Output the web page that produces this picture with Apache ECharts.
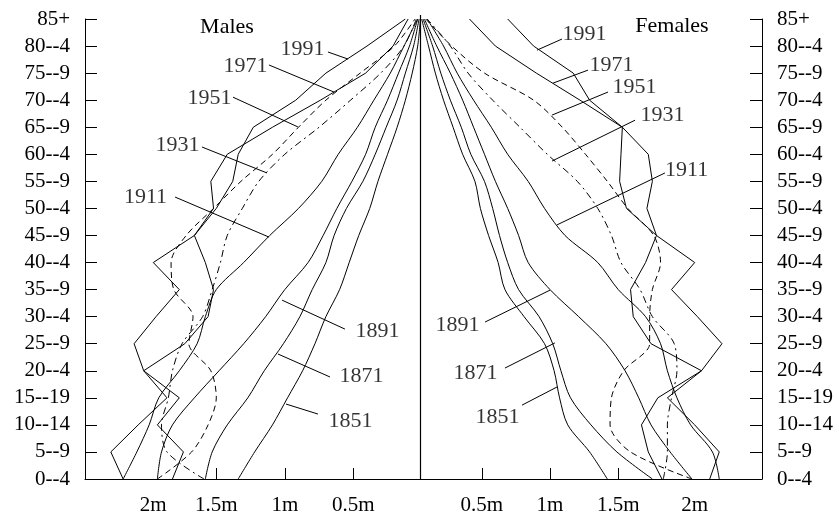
<!DOCTYPE html>
<html>
<head>
<meta charset="utf-8">
<script src="https://cdn.jsdelivr.net/npm/echarts@6/dist/echarts.min.js"></script>
<style>
html, body { margin: 0; padding: 0; background: #fff; }
#chart { width: 839px; height: 518px; }
</style>
</head>
<body>
<div id="chart"></div>
<script>
// Age groups, bottom to top
const ages = ['0--4', '5--9', '10--14', '15--19', '20--4', '25--9', '30--4', '35--9', '40--4',
  '45--9', '50--4', '55--9', '60--4', '65--9', '70--4', '75--9', '80--4', '85+'];
const years = [1851, 1871, 1891, 1911, 1931, 1951, 1971, 1991];

// Population by age group, millions — males
const male1851 = [1.34, 1.22, 1.09, 0.98, 0.87, 0.78, 0.70, 0.60, 0.53, 0.46, 0.38, 0.32, 0.25, 0.18, 0.12, 0.07, 0.03, 0.01];
const male1871 = [1.58, 1.53, 1.42, 1.27, 1.15, 1.01, 0.89, 0.80, 0.70, 0.64, 0.55, 0.43, 0.34, 0.26, 0.18, 0.12, 0.06, 0.02];
const male1891 = [1.93, 1.90, 1.82, 1.66, 1.48, 1.30, 1.14, 1.00, 0.83, 0.72, 0.62, 0.51, 0.41, 0.34, 0.25, 0.17, 0.09, 0.03];
const male1911 = [2.18, 2.08, 1.99, 1.92, 1.77, 1.64, 1.58, 1.50, 1.30, 1.11, 0.90, 0.73, 0.61, 0.47, 0.35, 0.23, 0.13, 0.03];
const male1931 = [1.59, 1.86, 1.90, 1.85, 1.82, 1.75, 1.60, 1.53, 1.47, 1.42, 1.31, 1.19, 1.00, 0.75, 0.52, 0.30, 0.13, 0.04];
const male1951 = [1.93, 1.68, 1.56, 1.50, 1.54, 1.70, 1.67, 1.81, 1.83, 1.72, 1.52, 1.32, 1.09, 0.90, 0.70, 0.45, 0.20, 0.05];
const male1971 = [2.18, 2.27, 2.07, 1.86, 2.03, 1.73, 1.56, 1.52, 1.58, 1.66, 1.52, 1.54, 1.42, 1.09, 0.74, 0.41, 0.21, 0.10];
const male1991 = [1.82, 1.74, 1.93, 1.77, 2.03, 2.10, 1.94, 1.77, 1.96, 1.66, 1.50, 1.38, 1.34, 1.23, 0.92, 0.70, 0.40, 0.12];

// Population by age group, millions — females
const female1851 = [1.42, 1.29, 1.13, 1.07, 1.03, 0.96, 0.81, 0.67, 0.62, 0.55, 0.49, 0.45, 0.36, 0.29, 0.22, 0.16, 0.11, 0.06];
const female1871 = [1.75, 1.49, 1.30, 1.15, 1.08, 1.02, 0.92, 0.77, 0.69, 0.63, 0.58, 0.52, 0.42, 0.35, 0.27, 0.20, 0.14, 0.07];
const female1891 = [2.04, 1.88, 1.74, 1.65, 1.55, 1.41, 1.21, 1.00, 0.84, 0.77, 0.69, 0.60, 0.52, 0.44, 0.36, 0.27, 0.17, 0.08];
const female1911 = [2.24, 2.19, 2.03, 1.93, 1.86, 1.81, 1.70, 1.50, 1.35, 1.11, 0.96, 0.84, 0.69, 0.57, 0.44, 0.32, 0.22, 0.10];
const female1931 = [1.83, 1.86, 1.86, 1.89, 1.93, 1.91, 1.75, 1.66, 1.52, 1.45, 1.35, 1.20, 0.98, 0.78, 0.58, 0.40, 0.27, 0.10];
const female1951 = [2.04, 1.59, 1.44, 1.45, 1.54, 1.73, 1.73, 1.75, 1.81, 1.76, 1.57, 1.42, 1.26, 1.09, 0.88, 0.52, 0.28, 0.09];
const female1971 = [2.17, 2.24, 2.06, 1.86, 2.11, 1.74, 1.61, 1.59, 1.70, 1.78, 1.71, 1.75, 1.72, 1.53, 1.22, 0.90, 0.60, 0.41];
const female1991 = [1.82, 1.72, 1.67, 1.79, 2.11, 2.26, 2.08, 1.89, 2.06, 1.78, 1.56, 1.51, 1.52, 1.53, 1.29, 1.17, 0.88, 0.69];

// Population axis tick marks and labels
const tickValues = [0.5, 1, 1.5];
const tickTexts = ['0.5m', '1m', '1.5m', '2m'];
const maleLabelAt = [0.5, 1, 1.5, 1.96];
const femaleLabelAt = [0.5, 1, 1.5, 2.06];

const maleSeries = { 1851: male1851, 1871: male1871, 1891: male1891, 1911: male1911,
  1931: male1931, 1951: male1951, 1971: male1971, 1991: male1991 };
const femaleSeries = { 1851: female1851, 1871: female1871, 1891: female1891, 1911: female1911,
  1931: female1931, 1951: female1951, 1971: female1971, 1991: female1991 };

// Year labels with leader lines, in axis units: [year, text x, text y, from x, from y, to x, to y]
const maleNotes = [
  [1991, 0.867, 15.85, 0.685, 15.78, 0.539, 15.52],
  [1971, 1.283, 15.23, 1.115, 15.30, 0.641, 14.30],
  [1951, 1.546, 14.04, 1.378, 14.11, 0.904, 13.01],
  [1931, 1.780, 12.31, 1.605, 12.27, 1.130, 11.31],
  [1911, 2.013, 10.38, 1.801, 10.42, 1.115, 8.94],
  [1891, 0.320, 5.43, 0.561, 5.54, 1.020, 6.61],
  [1871, 0.437, 3.77, 0.670, 3.77, 1.050, 4.62],
  [1851, 0.517, 2.11, 0.758, 2.40, 0.991, 2.77]
];
const femaleNotes = [
  [1991, 1.256, 16.41, 1.088, 16.26, 0.905, 15.85],
  [1971, 1.454, 15.26, 1.278, 15.11, 1.022, 14.63],
  [1951, 1.623, 14.45, 1.425, 14.30, 1.015, 13.45],
  [1931, 1.828, 13.41, 1.623, 13.26, 1.015, 11.75],
  [1911, 2.004, 11.38, 1.842, 11.31, 1.051, 9.39],
  [1891, 0.326, 5.65, 0.524, 5.80, 1.000, 6.98],
  [1871, 0.458, 3.88, 0.670, 4.10, 1.036, 5.03],
  [1851, 0.619, 2.25, 0.795, 2.73, 1.051, 3.40]
];

const dashStyle = { 1931: [7, 4, 2, 4], 1951: [6, 4] };
const sharpYears = [1971, 1991];

const FONT = "'Liberation Serif', 'Times New Roman', serif";
const INK = '#000';

const chart = echarts.init(document.getElementById('chart'), null, { renderer: 'canvas' });

function xAxisFor(gridIndex, inverse, max, labelAt) {
  return {
    gridIndex, type: 'value', inverse, min: 0, max,
    axisLine: { show: true, onZero: false, lineStyle: { color: INK, width: 1 } },
    axisTick: { show: true, inside: true, length: 11, customValues: tickValues, lineStyle: { color: INK, width: 1 } },
    axisLabel: {
      show: true, customValues: labelAt, margin: 16,
      formatter: v => tickTexts[labelAt.indexOf(v)],
      color: INK, fontFamily: FONT, fontSize: 21
    },
    splitLine: { show: false }
  };
}
function yAxisFor(gridIndex, position) {
  return {
    gridIndex, type: 'value', min: 0, max: 17, interval: 1, position,
    axisLine: { show: true, onZero: false, lineStyle: { color: INK, width: 1 } },
    axisTick: { show: true, inside: true, length: 12, lineStyle: { color: INK, width: 1 } },
    axisLabel: { formatter: v => ages[v], margin: 15, color: INK, fontFamily: FONT, fontSize: 21 },
    splitLine: { show: false }
  };
}

const series = [];
years.forEach(y => {
  const common = {
    type: 'line', symbol: 'none', silent: true, animation: false,
    smooth: sharpYears.includes(y) ? false : 0.3,
    lineStyle: { color: INK, width: 1, type: dashStyle[y] || 'solid' }
  };
  series.push(Object.assign({}, common, {
    name: 'M' + y, xAxisIndex: 0, yAxisIndex: 0,
    data: maleSeries[y].map((v, i) => [v, i])
  }));
  series.push(Object.assign({}, common, {
    name: 'F' + y, xAxisIndex: 1, yAxisIndex: 1,
    data: femaleSeries[y].map((v, i) => [v, i])
  }));
});

function noteSeries(notes, axis) {
  series.push({
    type: 'lines', coordinateSystem: 'cartesian2d', xAxisIndex: axis, yAxisIndex: axis,
    silent: true, animation: false,
    lineStyle: { color: INK, width: 1, opacity: 1 },
    data: notes.map(n => ({ coords: [[n[3], n[4]], [n[5], n[6]]] }))
  });
  series.push({
    type: 'scatter', xAxisIndex: axis, yAxisIndex: axis, silent: true, animation: false,
    symbolSize: 1, itemStyle: { color: 'rgba(0,0,0,0)' },
    label: {
      show: true, position: [0, 0], align: 'center', verticalAlign: 'middle',
      formatter: p => p.name, color: INK, fontFamily: FONT, fontSize: 22
    },
    data: notes.map(n => ({ name: String(n[0]), value: [n[1], n[2]] }))
  });
}
noteSeries(maleNotes, 0);
noteSeries(femaleNotes, 1);

chart.setOption({
  animation: false,
  backgroundColor: '#fff',
  grid: [
    { left: 85, right: 417.2, top: 19, bottom: 39 },
    { left: 413.5, right: 77, top: 19, bottom: 39 }
  ],
  xAxis: [
    xAxisFor(0, true, (421.8 - 85) / 137, maleLabelAt),
    xAxisFor(1, false, (762 - 413.5) / 136.5, femaleLabelAt)
  ],
  yAxis: [yAxisFor(0, 'left'), yAxisFor(1, 'right')],
  series,
  graphic: [
    { type: 'line', shape: { x1: 420.5, y1: 15, x2: 420.5, y2: 479 }, style: { stroke: INK, lineWidth: 1.2 }, silent: true },
    { type: 'text', x: 227, y: 27, style: { text: 'Males', fill: INK, font: '22px ' + FONT, textAlign: 'center', textVerticalAlign: 'middle' }, silent: true },
    { type: 'text', x: 672, y: 26, style: { text: 'Females', fill: INK, font: '22px ' + FONT, textAlign: 'center', textVerticalAlign: 'middle' }, silent: true }
  ]
});
</script>
</body>
</html>
